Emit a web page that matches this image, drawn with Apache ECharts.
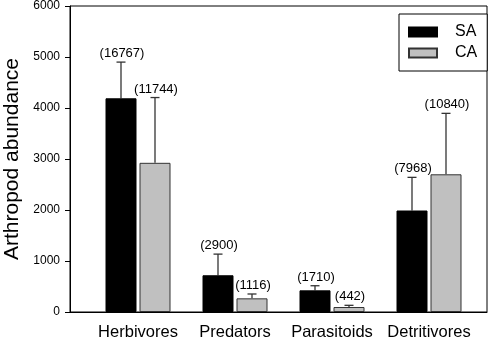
<!DOCTYPE html>
<html>
<head>
<meta charset="utf-8">
<script src="https://cdn.jsdelivr.net/npm/echarts@6/dist/echarts.min.js"></script>
<style>html,body{margin:0;padding:0;background:#fff}#c{width:498px;height:339px}</style>
</head>
<body>
<div id="c"></div>
<script>
var categories = ['Herbivores', 'Predators', 'Parasitoids', 'Detritivores'];
var saMean = [4190, 720, 425, 1990];
var saErrTop = [4900, 1135, 515, 2640];
var saN = ['(16767)', '(2900)', '(1710)', '(7968)'];
var caMean = [2925, 268, 98, 2700];
var caErrTop = [4205, 353, 131, 3895];
var caN = ['(11744)', '(1116)', '(442)', '(10840)'];
var yTicks = [0, 1000, 2000, 3000, 4000, 5000, 6000];

var FONT = '"Liberation Sans", Arial, sans-serif';
var BAR_W = 31, BAR_GAP = 3;
var offset = (BAR_W + BAR_GAP) / 2;

function errData(mean, top, n) {
  return mean.map(function (m, i) { return [i, m, top[i], n[i]]; });
}

function errRenderer(side) {
  return function (params, api) {
    var ci = api.value(0);
    var base = api.coord([ci, api.value(1)]);
    var top = api.coord([ci, api.value(2)]);
    var x = base[0] + side * offset;
    var cap = 4.5;
    return {
      type: 'group',
      children: [
        { type: 'line', shape: { x1: x, y1: base[1], x2: x, y2: top[1] }, style: { stroke: '#333', lineWidth: 1.3 } },
        { type: 'line', shape: { x1: x - cap, y1: top[1], x2: x + cap, y2: top[1] }, style: { stroke: '#333', lineWidth: 1.3 } },
        { type: 'text', style: { text: api.value(3), x: x + 1, y: top[1] - 2, align: 'center', verticalAlign: 'bottom', fontSize: 13, fontFamily: FONT, fill: '#000' } }
      ]
    };
  };
}

var chart = echarts.init(document.getElementById('c'));
chart.setOption({
  animation: false,
  backgroundColor: '#fff',
  textStyle: { fontFamily: FONT },
  grid: [
    { left: 70, right: 11, top: 6, bottom: 27, outerBoundsMode: 'none', containLabel: false, show: true, borderColor: '#000', borderWidth: 1, backgroundColor: 'transparent' },
    { left: 89.5, right: 20.5, top: 6, bottom: 27, outerBoundsMode: 'none', containLabel: false }
  ],
  legend: {
    orient: 'vertical',
    left: 399, top: 14,
    padding: [10, 10, 10, 9],
    itemGap: 5,
    itemWidth: 28, itemHeight: 9,
    icon: 'rect',
    borderColor: '#000', borderWidth: 1,
    backgroundColor: '#fff',
    textStyle: { fontSize: 16, color: '#000', fontFamily: FONT, padding: [0, 0, 0, 13] },
    data: ['SA', 'CA']
  },
  xAxis: [
    { type: 'category', gridIndex: 0, data: categories, axisLine: { show: true, lineStyle: { color: '#000' } }, axisTick: { show: false }, axisLabel: { show: false } },
    { type: 'category', gridIndex: 1, data: categories, axisLine: { show: false }, axisTick: { show: false },
      axisLabel: { interval: 0, fontSize: 16.5, color: '#000', margin: 12, fontFamily: FONT } }
  ],
  yAxis: [
    { type: 'value', gridIndex: 0, min: yTicks[0], max: yTicks[yTicks.length - 1], interval: 1000,
      axisLine: { show: true, lineStyle: { color: '#000' } },
      axisTick: { show: true, length: 5, lineStyle: { color: '#000' } },
      axisLabel: { fontSize: 12, color: '#000', margin: 10, fontFamily: FONT, formatter: function (v) { return String(v); } },
      splitLine: { show: false },
      name: 'Arthropod abundance', nameLocation: 'middle', nameGap: 47,
      nameTextStyle: { fontSize: 21, color: '#000', fontFamily: FONT } },
    { type: 'value', gridIndex: 1, min: yTicks[0], max: yTicks[yTicks.length - 1], interval: 1000, show: false }
  ],
  series: [
    { name: 'SA', type: 'bar', xAxisIndex: 1, yAxisIndex: 1, data: saMean, barWidth: BAR_W, barGap: (BAR_GAP / BAR_W * 100) + '%',
      itemStyle: { color: '#000', borderColor: '#000', borderWidth: 1 } },
    { name: 'CA', type: 'bar', xAxisIndex: 1, yAxisIndex: 1, data: caMean, barWidth: BAR_W,
      itemStyle: { color: '#c0c0c0', borderColor: '#333', borderWidth: 1 } },
    { type: 'custom', xAxisIndex: 1, yAxisIndex: 1, renderItem: errRenderer(-1), data: errData(saMean, saErrTop, saN), z: 1 },
    { type: 'custom', xAxisIndex: 1, yAxisIndex: 1, renderItem: errRenderer(1), data: errData(caMean, caErrTop, caN), z: 1 }
  ]
});
</script>
</body>
</html>
